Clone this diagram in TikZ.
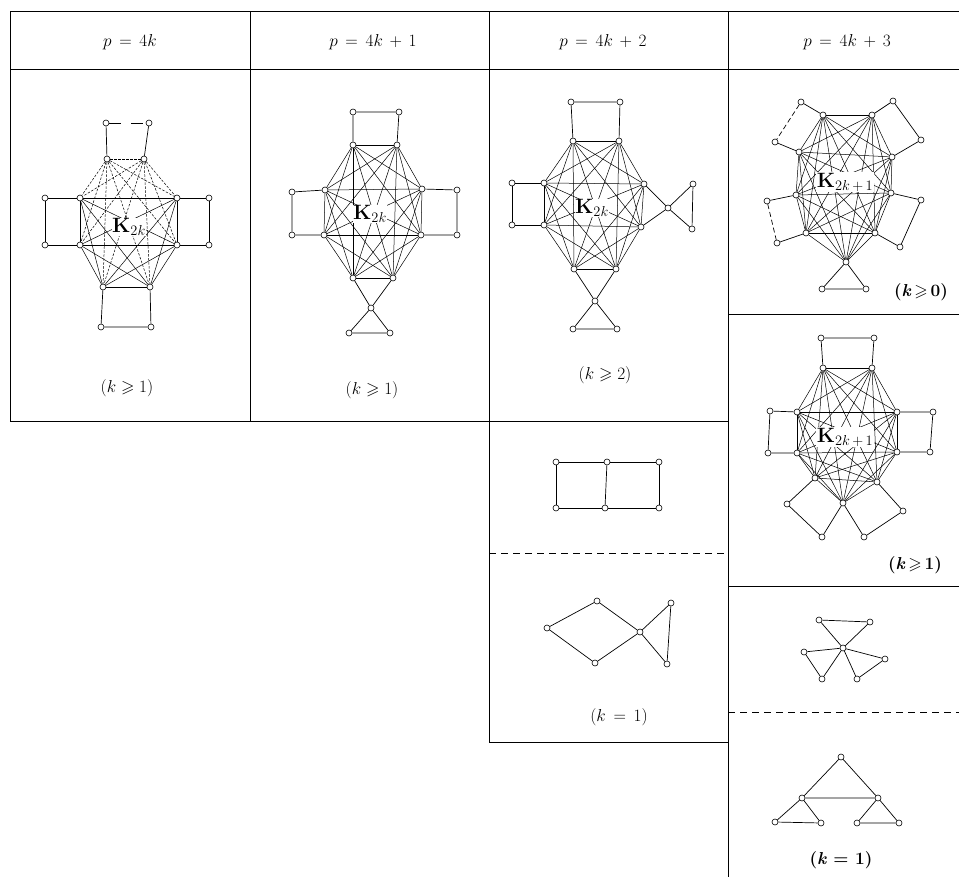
\documentclass[tikz,border=0pt]{standalone}
\usepackage{amssymb}
\begin{document}
\begin{tikzpicture}[x=1pt,y=-1pt,
  v/.style={circle,draw,fill=white,inner sep=0pt,minimum size=6pt,line width=0.6pt},
  e/.style={line width=0.7pt},
  ke/.style={line width=0.5pt},
  kdash/.style={line width=0.5pt,dash pattern=on 2.5pt off 1.5pt},
  gridline/.style={line width=1pt},
  gridd/.style={line width=1pt,dash pattern=on 7pt off 5pt},
  lab/.style={font=\fontsize{17.28}{19}\selectfont},
  blab/.style={font=\fontsize{17.28}{19}\selectfont\bfseries},
  klab/.style={fill=white,inner sep=0.5pt,font=\fontsize{20.74}{23}\selectfont}]
\useasboundingbox (0,0) rectangle (959,877);
% ---------------- table ----------------
\draw[gridline] (10,12) -- (959,12);
\draw[gridline] (10,70) -- (959,70);
\draw[gridline] (10,12) -- (10,421);
\draw[gridline] (250,12) -- (250,421);
\draw[gridline] (489,12) -- (489,742);
\draw[gridline] (728,12) -- (728,877);
\draw[gridline] (10,421) -- (728,421);
\draw[gridline] (728,315) -- (959,315);
\draw[gridline] (728,586) -- (959,586);
\draw[gridline] (489,742) -- (728,742);
\draw[gridd] (489,553) -- (728,553);
\draw[gridd] (728,712) -- (959,712);
% headers
\node[lab] (h1) at (130,42) {$p \,=\, 4k$};
\node[lab] (h2) at (373,42) {$p \,=\, 4k \,+\, 1$};
\node[lab] (h3) at (603,42) {$p \,=\, 4k \,+\, 2$};
\node[lab] (h4) at (847,42) {$p \,=\, 4k \,+\, 3$};
% ---------------- column 1 ----------------
\node[v] (a1) at (107,159) {};
\node[v] (a2) at (144,159) {};
\node[v] (a3) at (177,198) {};
\node[v] (a4) at (177,245) {};
\node[v] (a5) at (150,287) {};
\node[v] (a6) at (103,287) {};
\node[v] (a7) at (80,245) {};
\node[v] (a8) at (80,198) {};
\node[v] (a9) at (106,123) {};
\node[v] (a10) at (149,123) {};
\node[v] (a11) at (209,198) {};
\node[v] (a12) at (209,245) {};
\node[v] (a13) at (151,327) {};
\node[v] (a14) at (101,327) {};
\node[v] (a15) at (45,245) {};
\node[v] (a16) at (45,198) {};
\foreach \i in {1,...,7}{\pgfmathtruncatemacro\s{\i+1}\foreach \j in {\s,...,8}{%
  \ifnum\i<3 \draw[kdash] (a\i) -- (a\j); \else \draw[ke] (a\i) -- (a\j); \fi}}
\draw[e] (a1) -- (a9); \draw[e] (a2) -- (a10); \draw[e,dash pattern=on 12pt off 10pt] (a9) -- (a10);
\draw[e] (a3) -- (a11) -- (a12) -- (a4);
\draw[e] (a5) -- (a13) -- (a14) -- (a6);
\draw[e] (a7) -- (a15) -- (a16) -- (a8);
\node[klab] (ka) at (129,227) {$\mathbf{K}_{2k}$};
\node[lab] (la) at (127,388) {$(k\geqslant 1)$};
% ---------------- column 2 ----------------
\node[v] (b1) at (353,145) {};
\node[v] (b2) at (397,145) {};
\node[v] (b3) at (422,189) {};
\node[v] (b4) at (421,235) {};
\node[v] (b5) at (393,278) {};
\node[v] (b6) at (353,278) {};
\node[v] (b7) at (324,235) {};
\node[v] (b8) at (325,190) {};
\node[v] (b9) at (353,112) {};
\node[v] (b10) at (399,112) {};
\node[v] (b11) at (457,190) {};
\node[v] (b12) at (457,235) {};
\node[v] (b13) at (292,235) {};
\node[v] (b14) at (292,192) {};
\node[v] (b15) at (371,308) {};
\node[v] (b16) at (349,333) {};
\node[v] (b17) at (390,333) {};
\foreach \i in {1,...,7}{\pgfmathtruncatemacro\s{\i+1}\foreach \j in {\s,...,8}{%
  \draw[ke] (b\i) -- (b\j);}}
\draw[e] (b1) -- (b9) -- (b10) -- (b2);
\draw[e] (b3) -- (b11) -- (b12) -- (b4);
\draw[e] (b7) -- (b13) -- (b14) -- (b8);
\draw[e] (b5) -- (b15) -- (b6);
\draw[e] (b15) -- (b16) -- (b17) -- (b15);
\node[klab] (kb) at (370,214) {$\mathbf{K}_{2k}$};
\node[lab] (lb) at (372,390) {$(k\geqslant 1)$};
% ---------------- column 3 ----------------
\node[v] (c1) at (573,141) {};
\node[v] (c2) at (619,141) {};
\node[v] (c3) at (644,184) {};
\node[v] (c4) at (641,227) {};
\node[v] (c5) at (616,269) {};
\node[v] (c6) at (574,269) {};
\node[v] (c7) at (544,225) {};
\node[v] (c8) at (544,183) {};
\node[v] (c9) at (571,102) {};
\node[v] (c10) at (620,102) {};
\node[v] (c11) at (512,183) {};
\node[v] (c12) at (512,225) {};
\node[v] (c13) at (668,208) {};
\node[v] (c14) at (693,184) {};
\node[v] (c15) at (692,229) {};
\node[v] (c16) at (595,301) {};
\node[v] (c17) at (573,329) {};
\node[v] (c18) at (617,329) {};
\foreach \i in {1,...,7}{\pgfmathtruncatemacro\s{\i+1}\foreach \j in {\s,...,8}{%
  \draw[ke] (c\i) -- (c\j);}}
\draw[e] (c1) -- (c9) -- (c10) -- (c2);
\draw[e] (c8) -- (c11) -- (c12) -- (c7);
\draw[e] (c3) -- (c13) -- (c4);
\draw[e] (c13) -- (c14) -- (c15) -- (c13);
\draw[e] (c5) -- (c16) -- (c6);
\draw[e] (c16) -- (c17) -- (c18) -- (c16);
\node[klab] (kc) at (592,208) {$\mathbf{K}_{2k}$};
\node[lab] (lc) at (605,375) {$(k\geqslant 2)$};
% domino
\node[v] (h1v) at (556,462) {};
\node[v] (h2v) at (607,462) {};
\node[v] (h3v) at (659,462) {};
\node[v] (h4v) at (556,508) {};
\node[v] (h5v) at (605,508) {};
\node[v] (h6v) at (659,508) {};
\draw[e] (h1v) -- (h2v) -- (h3v) -- (h6v) -- (h5v) -- (h4v) -- (h1v);
\draw[e] (h2v) -- (h5v);
% fish
\node[v] (i1) at (547,628) {};
\node[v] (i2) at (597,601) {};
\node[v] (i3) at (595,663) {};
\node[v] (i4) at (640,632) {};
\node[v] (i5) at (671,603) {};
\node[v] (i6) at (667,664) {};
\draw[e] (i1) -- (i2) -- (i4) -- (i3) -- (i1);
\draw[e] (i4) -- (i5) -- (i6) -- (i4);
\node[lab] (li) at (619,717) {$(k \,=\, 1)$};
% ---------------- column 4, top ----------------
\node[v] (d1) at (823,115) {};
\node[v] (d2) at (872,115) {};
\node[v] (d3) at (892,157) {};
\node[v] (d4) at (891,193) {};
\node[v] (d5) at (875,233) {};
\node[v] (d6) at (846,262) {};
\node[v] (d7) at (806,233) {};
\node[v] (d8) at (796,195) {};
\node[v] (d9) at (799,152) {};
\node[v] (d10) at (801,102) {};
\node[v] (d11) at (775,142) {};
\node[v] (d12) at (893,101) {};
\node[v] (d13) at (921,140) {};
\node[v] (d14) at (767,201) {};
\node[v] (d15) at (777,243) {};
\node[v] (d16) at (921,200) {};
\node[v] (d17) at (900,247) {};
\node[v] (d18) at (822,289) {};
\node[v] (d19) at (866,289) {};
\foreach \i in {1,...,8}{\pgfmathtruncatemacro\s{\i+1}\foreach \j in {\s,...,9}{%
  \draw[ke] (d\i) -- (d\j);}}
\draw[e] (d1) -- (d10); \draw[e,dash pattern=on 5pt off 3pt] (d10) -- (d11); \draw[e] (d11) -- (d9);
\draw[e] (d2) -- (d12) -- (d13) -- (d3);
\draw[e] (d8) -- (d14); \draw[e,dash pattern=on 5pt off 3pt] (d14) -- (d15); \draw[e] (d15) -- (d7);
\draw[e] (d4) -- (d16) -- (d17) -- (d5);
\draw[e] (d6) -- (d18) -- (d19) -- (d6);
\node[klab] (kd1) at (845,182) {$\mathbf{K}_{2k\,+\,1}$};
\node[blab] (ld) at (921,292) {(\textit{k}$\,\geqslant\,$0)};
% ---------------- column 4, second ----------------
\node[v] (e1) at (823,368) {};
\node[v] (e2) at (872,368) {};
\node[v] (e3) at (897,412) {};
\node[v] (e4) at (897,452) {};
\node[v] (e5) at (877,482) {};
\node[v] (e6) at (843,503) {};
\node[v] (e7) at (815,478) {};
\node[v] (e8) at (797,453) {};
\node[v] (e9) at (797,412) {};
\node[v] (e10) at (821,338) {};
\node[v] (e11) at (874,338) {};
\node[v] (e12) at (770,411) {};
\node[v] (e13) at (768,453) {};
\node[v] (e14) at (933,412) {};
\node[v] (e15) at (930,452) {};
\node[v] (e16) at (787,504) {};
\node[v] (e17) at (822,537) {};
\node[v] (e18) at (864,537) {};
\node[v] (e19) at (903,511) {};
\foreach \i in {1,...,8}{\pgfmathtruncatemacro\s{\i+1}\foreach \j in {\s,...,9}{%
  \draw[ke] (e\i) -- (e\j);}}
\draw[e] (e1) -- (e10) -- (e11) -- (e2);
\draw[e] (e9) -- (e12) -- (e13) -- (e8);
\draw[e] (e3) -- (e14) -- (e15) -- (e4);
\draw[e] (e7) -- (e16) -- (e17) -- (e6);
\draw[e] (e6) -- (e18) -- (e19) -- (e5);
\node[klab] (ke1) at (845,437) {$\mathbf{K}_{2k\,+\,1}$};
\node[blab] (le) at (915,565) {(\textit{k}$\,\geqslant\,$1)};
% ---------------- column 4, third ----------------
\node[v] (f0) at (843,648) {};
\node[v] (f1) at (819,620) {};
\node[v] (f2) at (870,622) {};
\node[v] (f3) at (804,652) {};
\node[v] (f4) at (822,679) {};
\node[v] (f5) at (885,659) {};
\node[v] (f6) at (857,679) {};
\draw[e] (f0) -- (f1) -- (f2) -- (f0);
\draw[e] (f0) -- (f3) -- (f4) -- (f0);
\draw[e] (f0) -- (f5) -- (f6) -- (f0);
% ---------------- column 4, fourth ----------------
\node[v] (g1) at (841,757) {};
\node[v] (g2) at (802,798) {};
\node[v] (g3) at (878,798) {};
\node[v] (g4) at (775,822) {};
\node[v] (g5) at (821,823) {};
\node[v] (g6) at (857,823) {};
\node[v] (g7) at (899,823) {};
\draw[e] (g1) -- (g2) -- (g3) -- (g1);
\draw[e] (g2) -- (g4) -- (g5) -- (g2);
\draw[e] (g3) -- (g6) -- (g7) -- (g3);
\node[blab] (lg) at (841,860) {(\textit{k} = 1)};
\end{tikzpicture}
\end{document}
